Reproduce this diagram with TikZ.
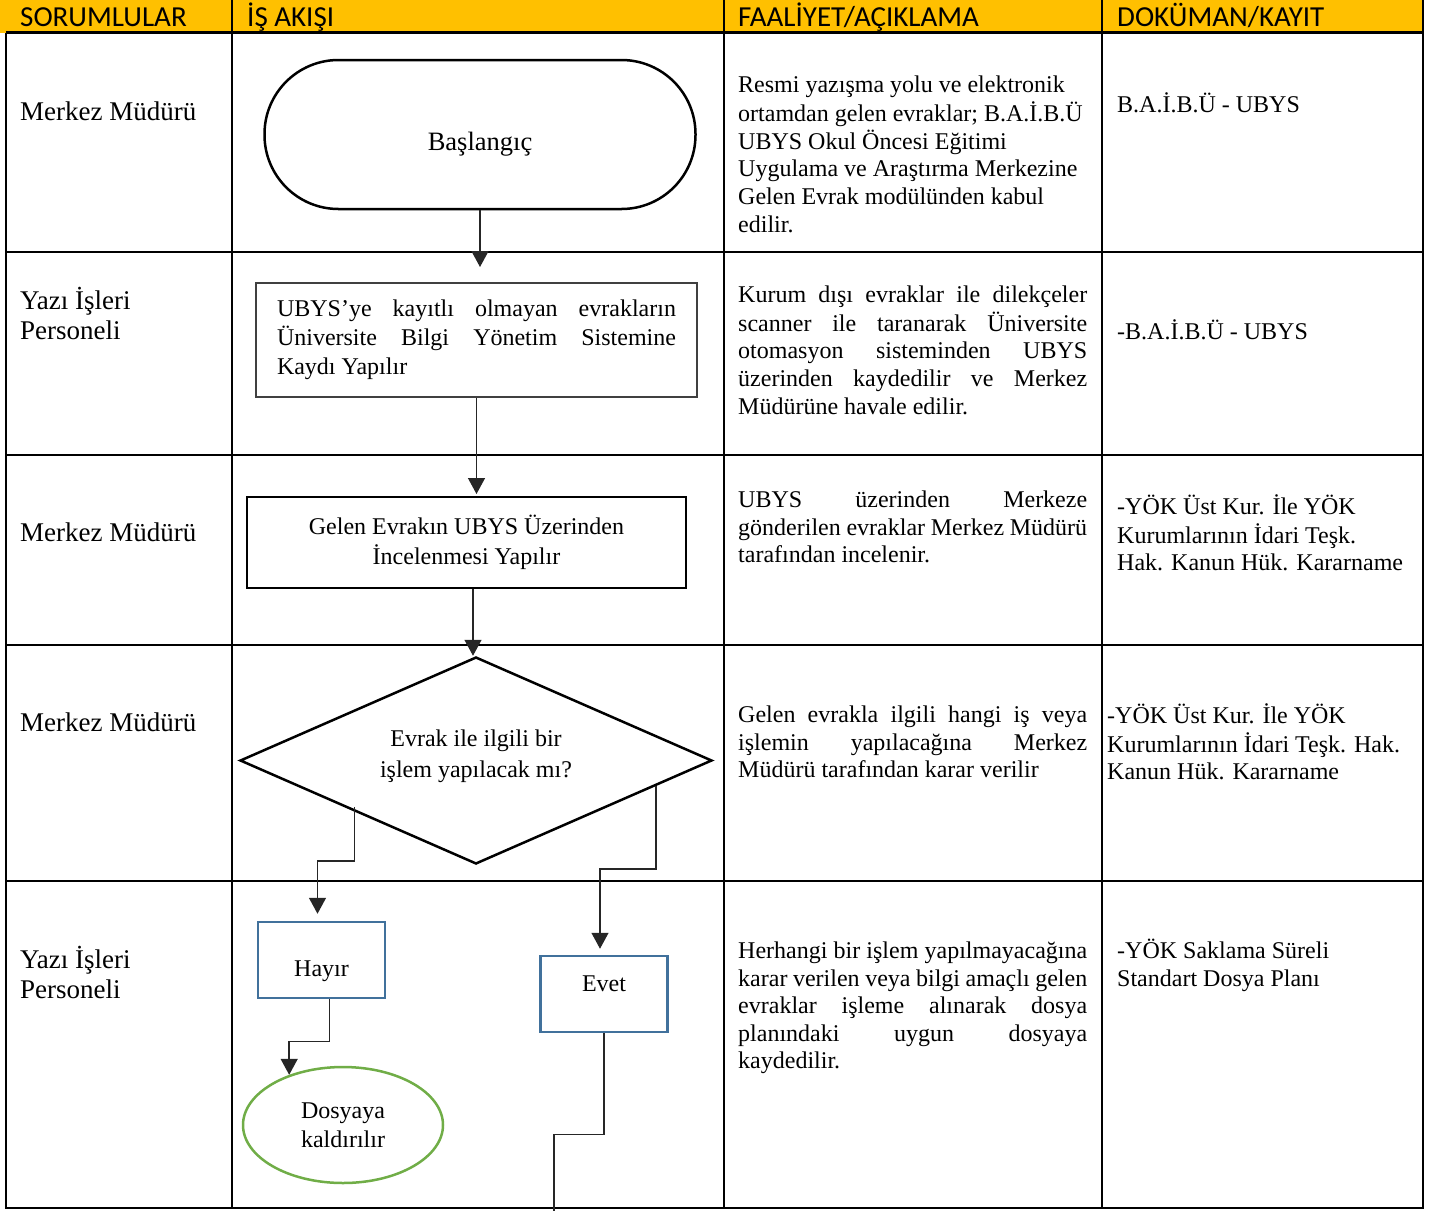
\documentclass[tikz,border=0pt]{standalone}
\usepackage{fontspec}
\setmainfont{Liberation Serif}
\newfontfamily\basfont{Carlito}
\usetikzlibrary{shapes.geometric,arrows.meta}
\definecolor{sari}{HTML}{FFC000}
\definecolor{mavi}{HTML}{41719C}
\definecolor{yesil}{HTML}{70AD47}
\newcommand{\satir}[2]{\makebox[#1][s]{#2}}
\tikzset{>={Triangle[width=17pt,length=16pt]}}
\tikzset{
  tablo/.style={line width=2.2pt},
  baslik/.style={anchor=base west, inner sep=0pt, font=\basfont\fontsize{29}{30}\selectfont},
  metin/.style={anchor=north west, inner sep=0pt, align=left, font=\fontsize{24}{27.6}\selectfont},
  sorumlu/.style={metin, font=\fontsize{27}{30}\selectfont},
  basla/.style={draw, line width=2.5pt, rounded corners=74pt, minimum width=431pt, minimum height=149pt, font=\fontsize{26.5}{30}\selectfont, text height=31pt, text depth=0pt},
  kutu/.style={draw, line width=2pt, inner xsep=21pt, inner ysep=0pt},
  karar/.style={draw, diamond, shape aspect=2.28, line width=2.5pt, minimum width=472pt, minimum height=207pt, inner sep=0pt, align=center, font=\fontsize{24}{31}\selectfont},
  secim/.style={draw=mavi, line width=2.5pt, minimum width=127pt, minimum height=76pt, inner sep=0pt, font=\fontsize{24}{28}\selectfont},
  son/.style={draw=yesil, ellipse, line width=2.5pt, minimum width=200pt, minimum height=116pt, inner sep=0pt, align=center, font=\fontsize{24}{29}\selectfont},
  ok/.style={->, line width=1.4pt, draw=black!85},
}

\begin{document}
\begin{tikzpicture}[x=1pt,y=-1pt]
\useasboundingbox (0,0) rectangle (1441,1211);
\fill[sari] (0,0) rectangle (1423,32.5);
\draw[tablo] (6,32.5) -- (6,1208) -- (1423,1208) -- (1423,0);
\foreach \y in {32.5,252,455,645,881}
\draw[tablo] (6,\y) -- (1423,\y);
\foreach \x in {232,724,1102}
\draw[tablo] (\x,0) -- (\x,1208);

\node[baslik] (b1) at (20,26.5) {SORUMLULAR};
\node[baslik] (b2) at (247,26.5) {İŞ AKIŞI};
\node[baslik] (b3) at (738,26.5) {FAALİYET/AÇIKLAMA};
\node[baslik] (b4) at (1117,26.5) {DOKÜMAN/KAYIT};

\node[sorumlu] (s1) at (20,99) {\strut Merkez Müdürü};
\node[sorumlu] (s2) at (20,287) {\strut Yazı İşleri\\Personeli};
\node[sorumlu] (s3) at (20,520) {\strut Merkez Müdürü};
\node[sorumlu] (s4) at (20,710) {\strut Merkez Müdürü};
\node[sorumlu] (s5) at (20,946) {\strut Yazı İşleri\\Personeli};

\node[basla] (basla) at (480,134.5) {Başlangıç};
\node[kutu, draw=black!75, minimum width=441pt, minimum height=114pt, align=left,
  font=\fontsize{24}{29}\selectfont] (kayit) at (476.5,340)
  {\satir{399pt}{UBYS’ye kayıtlı olmayan evrakların}\\
   \satir{399pt}{Üniversite Bilgi Yönetim Sistemine}\\
   Kaydı Yapılır};
\node[kutu, minimum width=439pt, minimum height=91pt, align=center,
  font=\fontsize{24}{30}\selectfont] (incel) at (466.5,542.5)
  {Gelen Evrakın UBYS Üzerinden\\İncelenmesi Yapılır};
\node[karar] (karar) at (476,760.5) {Evrak ile ilgili bir\\işlem yapılacak mı?\\[-18pt]\mbox{}};
\node[secim, text height=32pt, text depth=0pt] (hayir) at (321.5,960) {Hayır};
\node[secim, text height=16pt, text depth=22pt] (evet) at (604,994) {Evet};
\node[son] (dosya) at (343,1125) {Dosyaya\\kaldırılır};
\coordinate (cikis) at (554,1211);

\draw[ok, shorten >=15pt] (basla.south) -- (basla.south |- kayit.north);
\draw[ok, shorten >=2pt] (kayit.south) -- (kayit.south |- incel.north);
\draw[ok] ([xshift=-3pt]karar.north |- incel.south) -- ([xshift=-3pt]karar.north);
\draw[ok, shorten >=7pt] ([xshift=-3pt,yshift=6pt]karar.south west) -- ++(0,54) -| ([xshift=-4pt]hayir.north);
\draw[ok, shorten >=6pt] (karar.-8) -- ++(0,83) -| ([xshift=-4pt]evet.north);
\draw[ok] ([xshift=8pt]hayir.south) -- ++(0,42) -| (dosya.137);
\draw[line width=1.4pt, black!85] (evet.south) -- ++(0,101) -| (cikis);

\node[metin] (f1) at (738,73) {\strut Resmi yazışma yolu ve elektronik\\
  ortamdan gelen evraklar; B.A.İ.B.Ü\\UBYS Okul Öncesi Eğitimi\\
  Uygulama ve Araştırma Merkezine\\Gelen Evrak modülünden kabul\\edilir.};
\node[metin] (f2) at (738,283) {\strut\satir{349pt}{Kurum dışı evraklar ile dilekçeler}\\
  \satir{349pt}{scanner ile taranarak Üniversite}\\
  \satir{349pt}{otomasyon sisteminden UBYS}\\
  \satir{349pt}{üzerinden kaydedilir ve Merkez}\\
  Müdürüne havale edilir.};
\node[metin] (f3) at (738,488) {\strut\satir{349pt}{UBYS üzerinden Merkeze}\\
  \satir{349pt}{gönderilen evraklar Merkez Müdürü}\\
  tarafından incelenir.};
\node[metin] (f4) at (738,703) {\strut\satir{349pt}{Gelen evrakla ilgili hangi iş veya}\\
  \satir{349pt}{işlemin yapılacağına Merkez}\\
  Müdürü tarafından karar verilir};
\node[metin] (f5) at (738,939) {\strut\satir{349pt}{Herhangi bir işlem yapılmayacağına}\\
  \satir{349pt}{karar verilen veya bilgi amaçlı gelen}\\
  \satir{349pt}{evraklar işleme alınarak dosya}\\
  \satir{349pt}{planındaki uygun dosyaya}\\
  kaydedilir.};

\node[metin] (d1) at (1117,92) {\strut B.A.İ.B.Ü - UBYS};
\node[metin] (d2) at (1117,319) {\strut -B.A.İ.B.Ü - UBYS};
\node[metin] (d3) at (1117,494) {\strut -YÖK Üst Kur. İle YÖK\\
  Kurumlarının İdari Teşk.\\Hak. Kanun Hük. Kararname};
\node[metin] (d4) at (1107,703) {\strut -YÖK Üst Kur. İle YÖK\\
  Kurumlarının İdari Teşk. Hak.\\Kanun Hük. Kararname};
\node[metin] (d5) at (1117,939) {\strut -YÖK Saklama Süreli\\Standart Dosya Planı};
\end{tikzpicture}
\end{document}
